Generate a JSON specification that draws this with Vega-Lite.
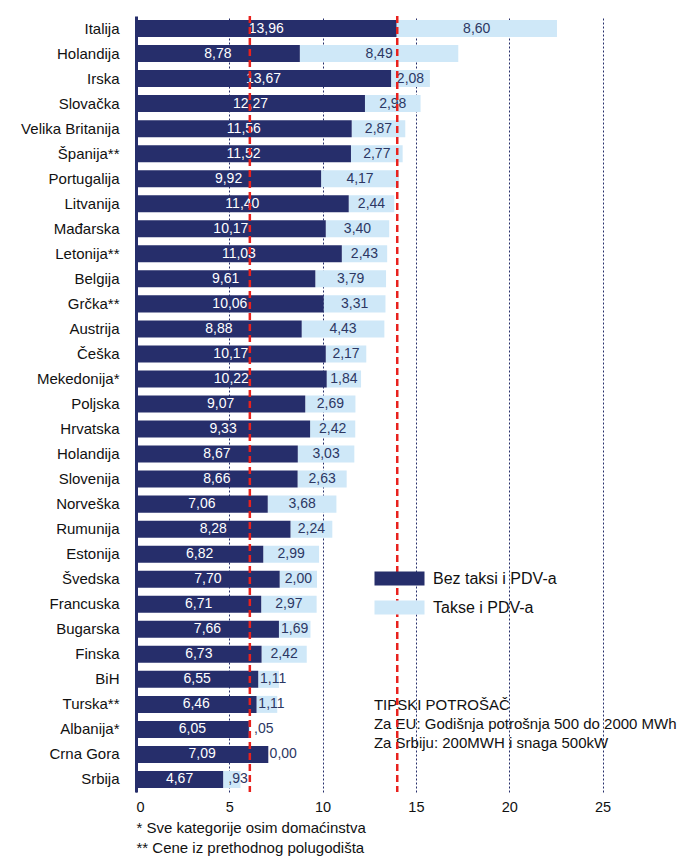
{
  "$schema": "https://vega.github.io/schema/vega-lite/v6.json",
  "width": 546,
  "height": 776,
  "autosize": {"type": "none"},
  "padding": {"left": 136, "top": 16, "right": 0, "bottom": 66},
  "background": "white",
  "config": {"view": {"stroke": null}, "font": "Liberation Sans"},
  "data": {
    "values": [
      {"key": "Italija", "b": 13.96, "t": 8.60, "lb": "13,96", "lt": "8,60"},
      {"key": "Holandija", "b": 8.78, "t": 8.49, "lb": "8,78", "lt": "8,49"},
      {"key": "Irska", "b": 13.67, "t": 2.08, "lb": "13,67", "lt": "2,08"},
      {"key": "Slovačka", "b": 12.27, "t": 2.98, "lb": "12,27", "lt": "2,98"},
      {"key": "Velika Britanija", "b": 11.56, "t": 2.87, "lb": "11,56", "lt": "2,87"},
      {"key": "Španija**", "b": 11.52, "t": 2.77, "lb": "11,52", "lt": "2,77"},
      {"key": "Portugalija", "b": 9.92, "t": 4.17, "lb": "9,92", "lt": "4,17"},
      {"key": "Litvanija", "b": 11.40, "t": 2.44, "lb": "11,40", "lt": "2,44"},
      {"key": "Mađarska", "b": 10.17, "t": 3.40, "lb": "10,17", "lt": "3,40"},
      {"key": "Letonija**", "b": 11.03, "t": 2.43, "lb": "11,03", "lt": "2,43"},
      {"key": "Belgija", "b": 9.61, "t": 3.79, "lb": "9,61", "lt": "3,79"},
      {"key": "Grčka**", "b": 10.06, "t": 3.31, "lb": "10,06", "lt": "3,31"},
      {"key": "Austrija", "b": 8.88, "t": 4.43, "lb": "8,88", "lt": "4,43"},
      {"key": "Češka", "b": 10.17, "t": 2.17, "lb": "10,17", "lt": "2,17"},
      {"key": "Mekedonija*", "b": 10.22, "t": 1.84, "lb": "10,22", "lt": "1,84"},
      {"key": "Poljska", "b": 9.07, "t": 2.69, "lb": "9,07", "lt": "2,69"},
      {"key": "Hrvatska", "b": 9.33, "t": 2.42, "lb": "9,33", "lt": "2,42"},
      {"key": "Holandija#2", "b": 8.67, "t": 3.03, "lb": "8,67", "lt": "3,03"},
      {"key": "Slovenija", "b": 8.66, "t": 2.63, "lb": "8,66", "lt": "2,63"},
      {"key": "Norveška", "b": 7.06, "t": 3.68, "lb": "7,06", "lt": "3,68"},
      {"key": "Rumunija", "b": 8.28, "t": 2.24, "lb": "8,28", "lt": "2,24"},
      {"key": "Estonija", "b": 6.82, "t": 2.99, "lb": "6,82", "lt": "2,99"},
      {"key": "Švedska", "b": 7.70, "t": 2.00, "lb": "7,70", "lt": "2,00"},
      {"key": "Francuska", "b": 6.71, "t": 2.97, "lb": "6,71", "lt": "2,97"},
      {"key": "Bugarska", "b": 7.66, "t": 1.69, "lb": "7,66", "lt": "1,69"},
      {"key": "Finska", "b": 6.73, "t": 2.42, "lb": "6,73", "lt": "2,42"},
      {"key": "BiH", "b": 6.55, "t": 1.11, "lb": "6,55", "lt": "1,11"},
      {"key": "Turska**", "b": 6.46, "t": 1.11, "lb": "6,46", "lt": "1,11"},
      {"key": "Albanija*", "b": 6.05, "t": 0.05, "lb": "6,05", "lt": ",05"},
      {"key": "Crna Gora", "b": 7.09, "t": 0.00, "lb": "7,09", "lt": "0,00"},
      {"key": "Srbija", "b": 4.67, "t": 0.93, "lb": "4,67", "lt": ",93"}
    ]
  },
  "transform": [
    {"calculate": "datum.b + datum.t", "as": "tot"},
    {"calculate": "datum.b / 2", "as": "mb"},
    {"calculate": "datum.b + max(datum.t / 2, 0.8)", "as": "mt"}
  ],
  "encoding": {
    "y": {
      "field": "key",
      "type": "nominal",
      "scale": {
        "domain": ["Italija", "Holandija", "Irska", "Slovačka", "Velika Britanija", "Španija**", "Portugalija", "Litvanija", "Mađarska", "Letonija**", "Belgija", "Grčka**", "Austrija", "Češka", "Mekedonija*", "Poljska", "Hrvatska", "Holandija#2", "Slovenija", "Norveška", "Rumunija", "Estonija", "Švedska", "Francuska", "Bugarska", "Finska", "BiH", "Turska**", "Albanija*", "Crna Gora", "Srbija"],
        "paddingInner": 0.32,
        "paddingOuter": 0.16
      },
      "axis": {
        "title": null,
        "labelExpr": "split(datum.label, '#')[0]",
        "labelFontSize": 15,
        "labelColor": "#111111",
        "labelPadding": 17,
        "ticks": false,
        "domainColor": "#262e6b",
        "domainWidth": 3,
        "zindex": 1
      }
    }
  },
  "layer": [
    {
      "mark": {"type": "bar", "color": "#cfe8f8"},
      "encoding": {
        "x": {
          "field": "b",
          "type": "quantitative",
          "scale": {"domain": [0, 29.26], "nice": false, "zero": true},
          "axis": {
            "values": [0, 5, 10, 15, 20, 25],
            "domain": false,
            "ticks": false,
            "labelFontSize": 14.5,
            "labelColor": "#111111",
            "labelPadding": 8,
            "grid": true,
            "gridColor": "#262e6b",
            "gridDash": [2, 2],
            "gridWidth": 1,
            "title": ["* Sve kategorije osim domaćinstva", "** Cene iz prethodnog polugodišta"],
            "titleAnchor": "start",
            "titleAlign": "left",
            "titleBaseline": "top",
            "titleFontSize": 15,
            "titleFontWeight": "normal",
            "titleColor": "#111111",
            "titleLineHeight": 20,
            "titlePadding": 7
          }
        },
        "x2": {"field": "tot"},
        "color": {
          "datum": "Takse i PDV-a",
          "type": "nominal",
          "scale": {"domain": ["Bez taksi i PDV-a", "Takse i PDV-a"], "range": ["#262e6b", "#cfe8f8"]},
          "legend": {
            "title": null,
            "orient": "none",
            "legendX": 251,
            "legendY": 550,
            "symbolType": "M-2,-0.56H2V0.56H-2Z",
            "symbolSize": 625,
            "symbolStrokeWidth": 0,
            "labelOffset": 21,
            "labelFontSize": 16,
            "labelColor": "#111111",
            "rowPadding": 8
          }
        }
      }
    },
    {
      "mark": {"type": "bar"},
      "encoding": {
        "x": {"field": "b", "type": "quantitative"},
        "color": {"datum": "Bez taksi i PDV-a", "type": "nominal"}
      }
    },
    {
      "mark": {"type": "text", "color": "#2c3763", "fontSize": 14, "align": "center", "baseline": "middle"},
      "encoding": {
        "x": {"field": "mt", "type": "quantitative"},
        "text": {"field": "lt"}
      }
    },
    {
      "mark": {"type": "text", "color": "white", "fontSize": 14, "align": "center", "baseline": "middle"},
      "encoding": {
        "x": {"field": "mb", "type": "quantitative"},
        "text": {"field": "lb"}
      }
    },
    {
      "transform": [{"filter": "datum.key === 'Turska**'"}],
      "mark": {"type": "text", "color": "#111111", "fontSize": 15, "align": "left", "baseline": "top", "dy": -6, "lineHeight": 19},
      "encoding": {
        "x": {"datum": 12.75, "type": "quantitative"},
        "text": {"value": ["TIPSKI POTROŠAČ", "Za EU: Godišnja potrošnja 500 do 2000 MWh", "Za Srbiju: 200MWH i snaga 500kW"]}
      }
    },
    {
      "data": {"values": [{"v": 6.1}, {"v": 14.0}]},
      "mark": {"type": "rule", "color": "#e8211d", "strokeWidth": 2.5, "strokeDash": [7, 4]},
      "encoding": {
        "x": {"field": "v", "type": "quantitative"},
        "y": null
      }
    }
  ]
}
